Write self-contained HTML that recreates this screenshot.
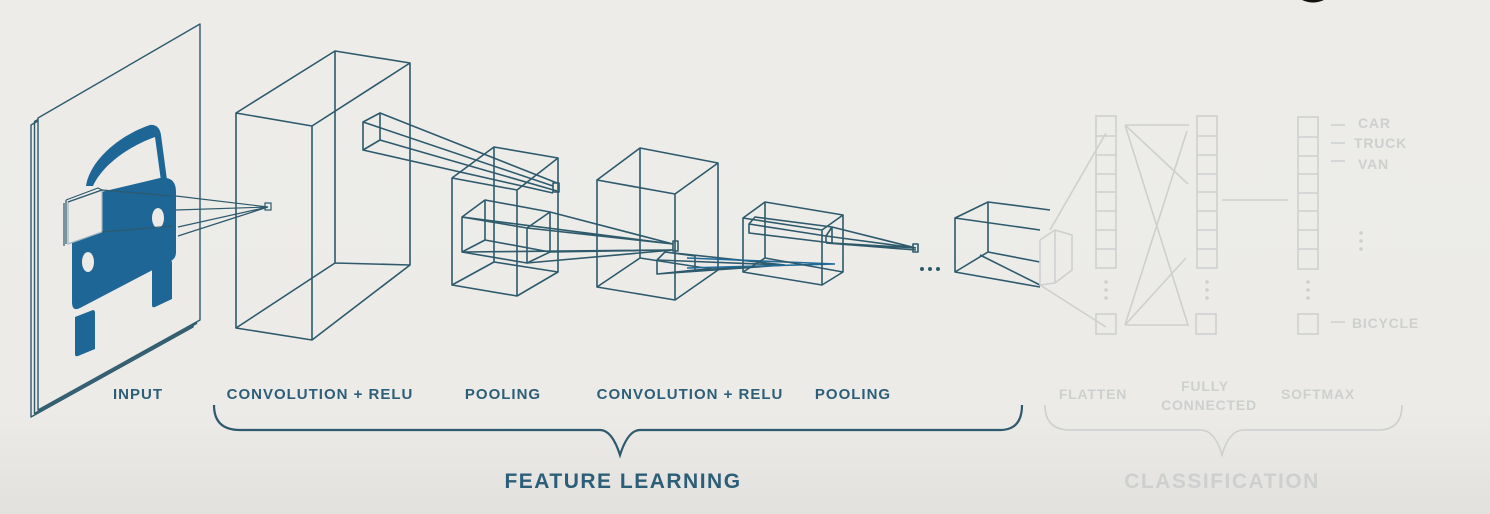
<!DOCTYPE html>
<html><head><meta charset="utf-8"><style>
html,body{margin:0;padding:0;background:#ecebe8;}
svg{display:block;}
text{font-family:"Liberation Sans",sans-serif;font-weight:bold;}
</style></head><body>
<svg width="1490" height="514" viewBox="0 0 1490 514" xmlns="http://www.w3.org/2000/svg">
<defs>
<linearGradient id="bg" x1="0" y1="0" x2="0" y2="1">
<stop offset="0" stop-color="#edece9"/><stop offset="0.8" stop-color="#ecebe8"/><stop offset="1" stop-color="#e2e1de"/>
</linearGradient>
</defs>
<rect width="1490" height="514" fill="url(#bg)"/>
<path d="M1302,0 Q1313,5 1324,0 Z" fill="#111"/>

<g fill="none" stroke="#2e5a6c" stroke-width="1.4" stroke-linejoin="round">
<path d="M31,125 L193,31 L193,327 L31,417 Z"/>
<path d="M34.5,121.5 L196.5,27.5 L196.5,323.5 L34.5,413.5 Z"/>
<path d="M38,118 L200,24 L200,320 L38,410 Z" fill="#ecebe8"/>
</g>
<!-- car -->
<g fill="#1d6695">
<path d="M86,186 C90,160 120,135 150,125 C156,124 160,128 161,135 L167,180 L161,181 L155,137 C127,147 102,166 93,186 Z"/>
<path d="M72,210 Q72,198 84,196 L160,178 Q176,176 176,192 L176,252 Q176,260 168,262 L80,308 Q72,312 72,302 Z"/>
<path d="M152,267 L170,260 Q172,260 172,263 L172,299 L155,307 Q152,308 152,305 Z"/>
<path d="M75,317 L93,310 Q95,310 95,313 L95,349 L78,356 Q75,357 75,354 Z"/>
</g>
<ellipse cx="158" cy="218" rx="6" ry="10" fill="#ecebe8"/>
<ellipse cx="88" cy="262" rx="6" ry="10" fill="#ecebe8"/>
<g fill="none" stroke="#2e5a6c" stroke-width="1.2">
<path d="M68,202 L102,190 L102,232 L68,244 Z" fill="#ecebe8" stroke="#9fb8c3"/>
<path d="M66,200 L66,244 M64,203 L64,246 M66,200 L98,188 L102,190"/>
<path d="M102,190 L172,196 M102,232 L172,226 M68,202 L102,190"/>
<path d="M176,196 L268,207 M176,210 L268,207 M178,227 L268,207 M178,236 L268,207"/>
<rect x="265" y="203" width="6" height="7"/>
</g>

<g fill="none" stroke="#2e5a6c" stroke-width="1.6" stroke-linejoin="round">
<path d="M236,113 L335,51 L410,63 L410,265 L312,340 L236,328 Z"/>
<path d="M236,113 L312,126 L410,63 M312,126 L312,340"/>
<path d="M335,51 L335,263 L410,265 M335,263 L236,328"/>
<path d="M363,122 L380,113 L380,140 L363,150 Z M380,113 L557,183 M363,122 L553,186 M363,150 L553,193 M380,140 L557,191"/>
<rect x="553" y="183" width="6" height="9"/>
<path d="M452,178 L494,147 L558,158 L558,272 L517,296 L452,285 Z"/>
<path d="M452,178 L517,190 L558,158 M517,190 L517,296"/>
<path d="M494,147 L494,262 L558,272 M494,262 L452,285"/>
<path d="M462,217 L485,200 L550,212 L550,252 L527,263 L462,252 Z"/>
<path d="M462,217 L527,228 L550,212 M527,228 L527,263 M485,200 L485,240 L550,252 M485,240 L462,252"/>
<path d="M527,228 L673,244 M550,212 L673,244 M527,263 L673,250 M550,252 L673,250 M462,217 L673,244 M462,252 L673,250"/>
<rect x="673" y="241" width="5" height="10"/>
<path d="M597,180 L640,148 L718,163 L718,270 L675,300 L597,287 Z"/>
<path d="M597,180 L675,194 L718,163 M675,194 L675,300"/>
<path d="M640,148 L640,258 L718,270 M640,258 L597,287"/>
<path d="M657,260 L665,252 L695,256 L695,270 L657,274 Z M665,252 L785,265 M657,260 L785,265 M657,274 L785,265 M695,270 L785,265"/>
<path d="M687,258 L835,264 M687,268 L835,264" stroke="#1f6a99"/>
<path d="M743,218 L765,202 L843,215 L843,272 L822,285 L743,272 Z"/>
<path d="M743,218 L822,230 L843,215 M822,230 L822,285"/>
<path d="M765,202 L765,258 L843,272 M765,258 L743,272"/>
<path d="M749,224 L755,217 L832,227 L832,243 L749,233 Z M749,224 L826,236 L832,227 M826,236 L826,243"/>
<path d="M826,236 L916,248 M832,227 L916,248 M832,243 L916,248 M826,243 L916,250"/>
<rect x="913" y="244" width="5" height="8"/>
<path d="M1050,210 L988,202 L955,218 L955,272 L1040,287 M988,202 L988,252 L955,272 M955,218 L1040,230 M988,252 L1040,262 M980,255 L1040,285"/>
</g>
<g fill="#2e5a6c"><circle cx="922" cy="269" r="2"/><circle cx="930" cy="269" r="2"/><circle cx="938" cy="269" r="2"/></g>

<g fill="none" stroke="#cdd0cf" stroke-width="1.6">
<path d="M1040,240 L1055,230 L1072,235 L1072,270 L1055,283 L1040,285 M1055,230 L1055,283 M1040,240 L1040,285"/>
<path d="M1050,230 L1106,133 M1040,285 L1106,327"/>
<rect x="1096" y="116" width="20" height="152"/>
<path d="M1096,136 H1116 M1096,155 H1116 M1096,174 H1116 M1096,192 H1116 M1096,211 H1116 M1096,230 H1116 M1096,249 H1116"/>
<rect x="1096" y="314" width="20" height="20"/>
<rect x="1197" y="116" width="20" height="152"/>
<path d="M1197,136 H1217 M1197,155 H1217 M1197,174 H1217 M1197,192 H1217 M1197,211 H1217 M1197,230 H1217 M1197,249 H1217"/>
<rect x="1196" y="314" width="20" height="20"/>
<rect x="1298" y="117" width="20" height="152"/>
<path d="M1298,137 H1318 M1298,156 H1318 M1298,174 H1318 M1298,193 H1318 M1298,211 H1318 M1298,230 H1318 M1298,249 H1318"/>
<rect x="1298" y="314" width="20" height="20"/>
<path d="M1125,125 H1189 M1125,125 L1188,184 M1187,131 L1125,325 M1125,325 H1188 L1125,125 M1125,325 L1186,258"/>
<path d="M1222,200 H1288"/>
<path d="M1331,125 H1345 M1331,143 H1345 M1331,161 H1345 M1331,322 H1345"/>
<path d="M1045,405 Q1045,430 1070,430 H1200 Q1215,430 1222,455 Q1229,430 1244,430 H1378 Q1402,430 1402,405" />
</g>
<g fill="#cdd0cf"><circle cx="1106" cy="282" r="1.8"/><circle cx="1106" cy="290" r="1.8"/><circle cx="1106" cy="298" r="1.8"/>
<circle cx="1207" cy="282" r="1.8"/><circle cx="1207" cy="290" r="1.8"/><circle cx="1207" cy="298" r="1.8"/>
<circle cx="1308" cy="282" r="1.8"/><circle cx="1308" cy="290" r="1.8"/><circle cx="1308" cy="298" r="1.8"/>
<circle cx="1361" cy="233" r="1.8"/><circle cx="1361" cy="241" r="1.8"/><circle cx="1361" cy="249" r="1.8"/></g>
<g fill="#cdd0cf" font-size="14" letter-spacing="0.8">
<text x="1358" y="128">CAR</text><text x="1354" y="148">TRUCK</text><text x="1358" y="169">VAN</text><text x="1352" y="328">BICYCLE</text>
<text x="1093" y="399" text-anchor="middle">FLATTEN</text>
<text x="1205" y="391" text-anchor="middle">FULLY</text>
<text x="1209" y="410" text-anchor="middle">CONNECTED</text>
<text x="1318" y="399" text-anchor="middle">SOFTMAX</text>
<text x="1222" y="488" text-anchor="middle" font-size="21" letter-spacing="1.5">CLASSIFICATION</text>
</g>

<g fill="#2d5e78" font-size="15" letter-spacing="1">
<text x="138" y="399" text-anchor="middle">INPUT</text>
<text x="320" y="399" text-anchor="middle">CONVOLUTION + RELU</text>
<text x="503" y="399" text-anchor="middle">POOLING</text>
<text x="690" y="399" text-anchor="middle">CONVOLUTION + RELU</text>
<text x="853" y="399" text-anchor="middle">POOLING</text>
<text x="623" y="488" text-anchor="middle" font-size="21" letter-spacing="1.5">FEATURE LEARNING</text>
</g>
<path d="M214,405 Q214,430 240,430 H600 Q612,430 620,455 Q628,430 640,430 H1000 Q1022,430 1022,405" fill="none" stroke="#2e5a6c" stroke-width="2.2"/>
</svg>
</body></html>
